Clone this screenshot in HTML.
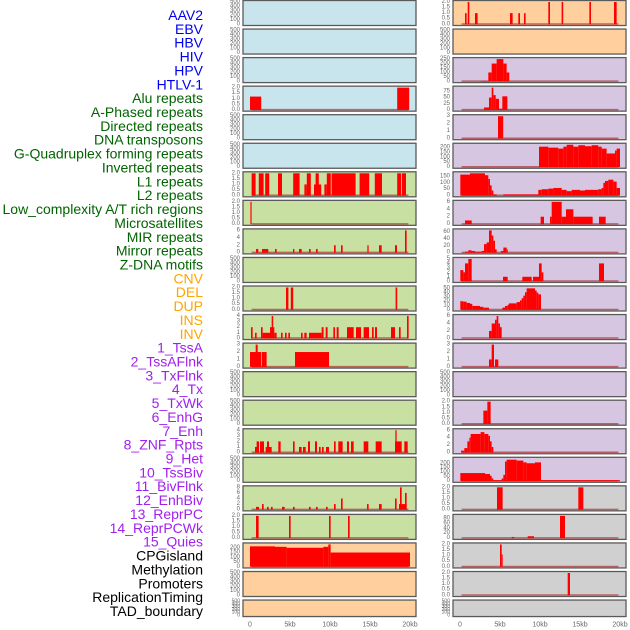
<!DOCTYPE html>
<html><head><meta charset="utf-8"><style>
html,body{margin:0;padding:0;background:#fff;}
svg{display:block;font-family:"Liberation Sans",sans-serif;}
</style></head><body>
<svg id="chart" width="630" height="630" viewBox="0 0 630 630" xmlns="http://www.w3.org/2000/svg"></svg>
<script>
const labels = ["AAV2","EBV","HBV","HIV","HPV","HTLV-1","Alu repeats","A-Phased repeats","Directed repeats","DNA transposons","G-Quadruplex forming repeats","Inverted repeats","L1 repeats","L2 repeats","Low_complexity A/T rich regions","Microsatellites","MIR repeats","Mirror repeats","Z-DNA motifs","CNV","DEL","DUP","INS","INV","1_TssA","2_TssAFlnk","3_TxFlnk","4_Tx","5_TxWk","6_EnhG","7_Enh","8_ZNF_Rpts","9_Het","10_TssBiv","11_BivFlnk","12_EnhBiv","13_ReprPC","14_ReprPCWk","15_Quies","CPGisland","Methylation","Promoters","ReplicationTiming","TAD_boundary"];
const labelGroups = ["virus","virus","virus","virus","virus","virus","repeat","repeat","repeat","repeat","repeat","repeat","repeat","repeat","repeat","repeat","repeat","repeat","repeat","sv","sv","sv","sv","sv","chrom","chrom","chrom","chrom","chrom","chrom","chrom","chrom","chrom","chrom","chrom","chrom","chrom","chrom","chrom","other","other","other","other","other"];
const xTicks = [0,5,10,15,20];
const xTickLabels = ["0","5kb","10kb","15kb","20kb"];
const T500 = [0,100,200,300,400,500];
const T2 = [0,0.5,1,1.5,2];
const panelTicks = [
 T500,T500,T500,T2,T500,T500,T2,T2,[0,2,4,6],T500,T2,[0,1,2,3,4],[0,1,2,3],T500,T500,[0,1,2,3,4],T500,[0,2,4,6,8],T2,[0,50,100,150,200],T500,T500,
 T2,T500,[0,50,100,150,200,250],[0,25,50,75],[0,1,2,3],[0,50,100,150,200],[0,50,100,150],[0,2,4,6],[0,20,40,60],[0,1,2,3,4,5],[0,10,20,30,40,50],[0,2,4,6],[0,1,2,3],T500,T2,[0,2,4,6],[0,50,100,150,200],T2,[0,20,40,60,80],T2,T2,T500];
const panelMax = [500,500,500,2,500,500,2,2,6,500,2,4,3,500,500,4,500,8,2,235,500,500,
 2,500,250,90,3,230,175,6,65,5,52,6,3,500,2,6,250,2,90,2,2,500];
// segments: [startKb, endKb, value]
const panelSegs = [
 [],[],[],
 [[0,1.4,1.2],[18.4,19.9,2]],
 [],[],
 [[0.2,0.7,2],[1.1,1.7,2],[1.9,2.4,2],[3.5,4,2],[5.4,6.2,2],[6.8,7.1,1],[7.1,7.6,2],[8.0,8.9,1],[8.2,8.6,2],[9.3,9.6,1],[9.6,10.1,2],[10.2,13.2,2],[13.7,14.9,2],[15.6,16.5,2],[18.4,18.9,2],[19,19.5,2]],
 [[0.05,0.2,2]],
 [[0.75,1.04,1],[1.5,2.29,1],[3.125,3.33,1],[5.375,5.54,1],[6.125,6.46,1],[7.375,7.58,1],[8.25,8.46,1],[10.5,10.71,2],[11.375,11.58,2],[14.67,14.83,2],[16.125,16.46,2],[18.125,18.375,2],[19.375,19.58,6]],
 [],
 [[4.5,4.8,2],[5.1,5.4,2],[18.2,18.4,2]],
 [[0.125,0.33,2],[0.625,0.83,1],[1.375,1.58,2],[1.58,2.5,1],[2.5,3.04,2],[2.71,2.9,4],[3.04,3.33,1],[3.875,4.08,1],[4.375,4.58,1],[4.79,5.0,1],[6.375,6.58,1],[6.79,7.08,1],[7.375,8.96,1],[8.96,9.2,2],[9.46,9.7,2],[10.42,10.63,2],[10.83,11.08,2],[12.125,12.96,2],[13.25,13.875,2],[14.21,14.875,2],[15.25,15.46,2],[15.625,15.875,2],[17.625,18.125,2],[18.625,18.83,2],[19.625,19.83,4]],
 [[0,1.375,2],[0.71,0.96,3],[1.46,2.08,2],[5.625,9.875,2]],
 [],[],
 [[0.625,1.04,1],[0.83,1.125,2],[1.25,1.75,2],[1.96,2.71,1],[2.125,2.375,2],[3.54,3.83,2],[5.375,5.58,2],[6.125,6.46,1],[6.625,6.96,1],[7.25,7.5,2],[8.125,8.375,2],[8.625,8.83,1],[9.0,9.21,1],[9.5,9.875,1],[10.5,10.71,2],[11.04,11.58,2],[12.125,12.375,2],[12.625,12.96,2],[14.21,14.79,2],[15.71,16.46,2],[18.125,18.96,2],[18.17,18.33,4],[19.29,19.71,2]],
 [],
 [[0.75,1.125,1],[1.5,1.71,2],[2.125,2.33,1],[2.625,2.83,1],[4.0,4.33,1],[5.375,5.58,1],[7.375,7.58,1],[8.25,8.46,1],[9.5,9.71,1],[10.5,10.71,2],[11.375,11.58,4],[14.625,14.83,2],[16.125,16.46,2],[18.125,18.33,4],[18.625,19.58,2],[18.75,18.96,8],[19.375,19.58,6]],
 [[0.75,1.08,2],[4.875,5.08,2],[9.875,10.08,2],[12.25,12.46,2]],
 [[0,3.125,215],[3.125,4.58,210],[4.58,9.17,200],[9.17,9.79,210],[9.79,10.08,235],[10.08,20,150]],
 [],[],
 [[0.625,0.83,1],[0.96,1.17,2],[1.875,2.2,1],[6.25,6.58,1],[7.29,7.5,1],[8,8.2,1],[11.04,11.25,2],[12.7,12.9,2],[16.17,16.375,2],[19.25,19.58,2]],
 [],
 [[2.6,3.54,5],[3.54,3.96,100],[3.96,4.58,200],[4.58,5.42,250],[5.42,5.83,200],[5.83,6.16,100]],
 [[3.0,3.625,10],[3.625,3.96,50],[3.96,4.17,90],[4.17,4.46,60],[4.46,4.875,45],[4.875,5.29,5],[5.29,5.92,55]],
 [[4.75,5.4,3]],
 [[9.875,11.04,210],[11.04,12.29,200],[12.29,12.92,190],[12.92,13.33,210],[13.33,14.17,230],[14.17,14.79,210],[14.79,15.625,225],[15.625,16.46,215],[16.46,17.29,225],[17.29,17.71,210],[17.71,18.33,190],[18.33,19.375,140],[19.375,19.58,170],[19.58,20,190]],
 [[0.04,1.25,165],[1.25,3.125,175],[3.125,3.54,160],[3.54,3.75,130],[3.75,3.96,80],[3.96,4.17,40],[4.17,4.58,10],[5.42,9.79,10],[9.79,10.21,45],[10.21,11.04,50],[11.04,11.67,55],[11.67,12.71,60],[12.71,13.33,45],[13.33,13.96,35],[13.96,15.0,45],[15.0,15.625,40],[15.625,17.29,45],[17.29,17.71,50],[17.71,17.92,60],[17.92,18.125,100],[18.125,18.54,115],[18.54,19.17,125],[19.17,19.58,110],[19.58,20,60]],
 [[0.625,1.46,1],[10.08,10.5,2],[11.25,11.46,2],[11.46,12.71,6],[12.71,13.0,2],[13.0,13.25,2],[13.25,14.17,4],[14.17,16.58,2],[17.375,18.21,2]],
 [[0.625,1.04,3],[1.04,1.46,7],[1.46,1.875,5],[1.875,2.71,3],[2.71,3.0,5],[3.0,3.33,25],[3.33,3.625,30],[3.625,3.96,65],[3.96,4.17,50],[4.17,4.375,35],[4.375,4.58,10],[5.125,5.42,5],[5.42,5.83,15],[5.83,5.96,10]],
 [[0.04,0.42,2.5],[0.42,0.625,2],[0.625,1.04,4],[1.04,1.46,5],[5.375,5.96,1],[7.79,8.96,1],[9.125,9.875,1],[9.875,10.21,4],[10.21,10.42,2],[17.375,18.0,4]],
 [[0.04,0.42,20],[0.42,0.83,19],[0.83,1.25,16],[1.25,1.54,14],[1.54,2.5,9],[2.5,2.92,7],[2.92,3.625,5],[5.29,5.625,5],[5.625,5.96,9],[5.96,6.125,12],[6.125,7.08,15],[7.08,7.5,18],[7.5,7.71,22],[7.71,7.92,27],[7.92,8.125,33],[8.125,8.33,41],[8.33,9.375,50],[9.375,9.58,45],[9.58,9.79,40],[9.79,10.125,36]],
 [[3.625,3.96,2],[3.96,4.375,4],[4.375,4.58,5],[4.58,4.79,6],[4.79,5.0,4],[5.0,5.21,3]],
 [[3.625,3.96,1],[3.96,4.25,3],[4.375,4.79,1]],
 [],
 [[2.92,3.42,1.2],[3.42,3.83,2]],
 [[0.125,0.54,0.5],[0.54,0.92,1.2],[0.92,1.17,3],[1.17,1.33,4],[1.33,2.58,5],[2.58,3.04,5.5],[3.04,3.54,5],[3.54,3.75,4.5],[3.75,3.96,3],[3.96,4.17,1.5]],
 [[0.04,3.125,90],[3.125,3.75,80],[3.75,3.96,60],[3.96,4.17,30],[4.17,5.21,10],[5.21,5.42,30],[5.42,5.625,70],[5.625,5.83,220],[5.83,7.08,240],[7.08,7.92,230],[7.92,8.33,210],[8.33,9.375,200],[9.375,10.125,210],[10.125,20,10]],
 [[4.625,5.33,2],[14.79,15.42,2]],
 [[6.46,6.79,5],[8.46,9.25,8],[12.5,13.125,90]],
 [[5.0,5.21,2],[5.21,5.33,1.1]],
 [[13.46,13.75,2]],
 []
];
const NS = "http://www.w3.org/2000/svg";
const svg = document.getElementById("chart");
function mk(tag, attrs, parent){const e=document.createElementNS(NS,tag);for(const k in attrs)e.setAttribute(k,attrs[k]);(parent||svg).appendChild(e);return e;}
const groupColor = {virus:"#0000ee",repeat:"#006400",sv:"#ffa500",chrom:"#a020f0",other:"#000000"};
const bgFor = i => { if(i<6) return "#c8e4ec"; if(i<19) return "#c8e0a2"; if(i<24) return "#ffd09e"; if(i<39) return "#d6c6e2"; return "#d0d0d0"; };
const PITCH = 28.55, PH = 25;
// labels
labels.forEach((t,j)=>{
  const e = mk("text",{x:203,y:15+j*13.86,"text-anchor":"end","dominant-baseline":"central","font-size":"14",fill:groupColor[labelGroups[j]]});
  e.textContent = t;
  
  
});
// panels
for(let p=0;p<44;p++){
  const col = p<22?0:1, row = p%22;
  const left = col?453:243, right = col?626:416;
  const top = row*PITCH + 0.5;
  const h = row===21?16.5:PH;
  const bottom = top+h;
  const x0 = col?460:250, x1 = col?620:410;
  const xs = kb => x0 + kb/20*(x1-x0);
  const ys = v => bottom - 1.2 - v/panelMax[p]*(h-2.7);
  const g = mk("g",{});
  
  
  mk("rect",{x:left,y:top,width:right-left,height:h,fill:bgFor(p),stroke:"#5a5a5a","stroke-width":1.3},g);
  panelTicks[p].forEach(tv=>{
    const tt = mk("text",{x:left-3,y:ys(tv),"text-anchor":"end","dominant-baseline":"central","font-size":row===21?"5":"6",fill:"#666"},g);
    tt.textContent = (panelMax[p]===2||panelTicks[p]===T2)? tv.toFixed(1): String(tv);
  });
  if(panelSegs[p].length){
    mk("line",{x1:xs(0.2),x2:xs(19.8),y1:bottom-1.5,y2:bottom-1.5,stroke:"rgba(170,40,40,0.65)","stroke-width":1.5},g);
  }
  panelSegs[p].forEach((s,k)=>{
    const r = mk("rect",{x:xs(s[0]),y:ys(s[2]),width:Math.max(0.8,xs(s[1])-xs(s[0])),height:bottom-1.2-ys(s[2]),fill:"#ff0000"},g);
    
    
  });
}
// x axes
[0,1].forEach(col=>{
  const x0 = col?460:250, x1 = col?620:410;
  xTicks.forEach((v,i)=>{
    const t = mk("text",{x:x0+v/20*(x1-x0),y:625,"text-anchor":"middle","dominant-baseline":"central","font-size":"7",fill:"#666"});
    t.textContent = xTickLabels[i];
    
    
  });
});
</script>
</body></html>
